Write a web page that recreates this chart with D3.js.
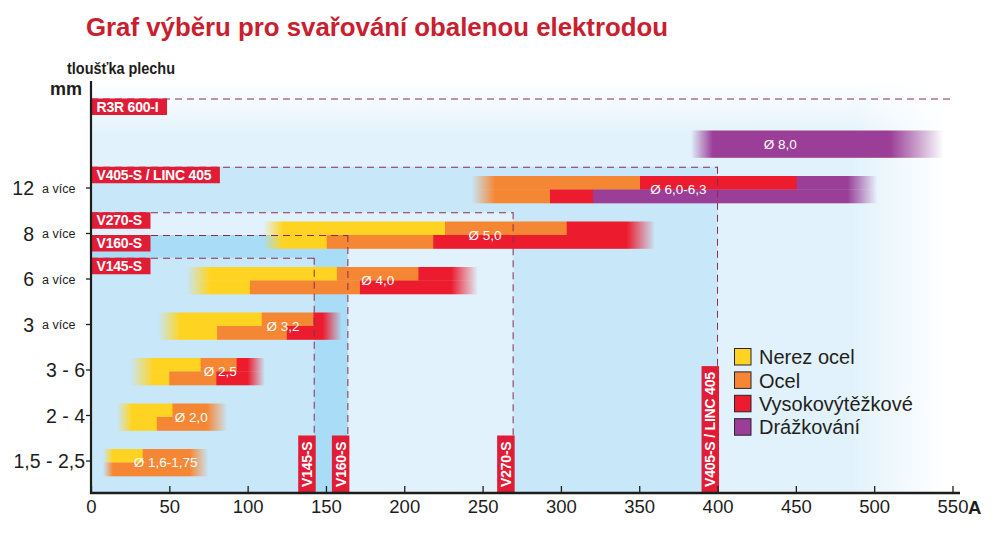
<!DOCTYPE html>
<html><head><meta charset="utf-8">
<script src="https://cdn.jsdelivr.net/npm/d3@7"></script>
<style>body{margin:0;background:#fff}svg{display:block;font-family:"Liberation Sans",Arial,Helvetica,sans-serif}</style>
</head><body><svg id="c" width="999" height="533"></svg>
<script>
// ---------- data ----------
const chartTitle = "Graf výběru pro svařování obalenou elektrodou";
const yAxisTitle = "tloušťka plechu";
const yUnit = "mm";
const xUnit = "A";
const thicknessLabels = ["", "12", "8", "6", "3", "3 - 6", "2 - 4", "1,5 - 2,5"];
const thicknessSuffix = ["", "a více", "a více", "a více", "a více", "", "", ""];
const xTickValues = [0, 50, 100, 150, 200, 250, 300, 350, 400, 450, 500, 550];
const materials = ["Nerez ocel", "Ocel", "Vysokovýtěžkové", "Drážkování"];
const electrodes = ["Ø 8,0", "Ø 6,0-6,3", "Ø 5,0", "Ø 4,0", "Ø 3,2", "Ø 2,5", "Ø 2,0", "Ø 1,6-1,75"];
const electrodeRow = [0, 1, 2, 3, 4, 5, 6, 7];
// [fade-in start, full from, full to, fade-out end] in A
const electrodeRange = [
  [383, 397, 510, 544],
  [243, 258, 483, 502],
  [110, 122.6, 342, 360],
  [61, 76, 230, 247],
  [43, 57, 148, 160],
  [25, 40, 100, 111],
  [16.6, 26, 74, 87],
  [7.7, 14, 63, 75]
];
// [material index, up to A] – upper half of each bar
const electrodeTop = [
  [[3, 544]],
  [[1, 350.5], [2, 450.5], [3, 502]],
  [[0, 226], [1, 303.7], [2, 360]],
  [[0, 157], [1, 209], [2, 247]],
  [[0, 109], [1, 142], [2, 160]],
  [[0, 70], [1, 93], [2, 111]],
  [[0, 52], [1, 87]],
  [[0, 33], [1, 75]]
];
// lower half of each bar
const electrodeBottom = [
  [[3, 544]],
  [[1, 293], [2, 320.5], [3, 502]],
  [[0, 150.5], [1, 218.5], [2, 360]],
  [[0, 101.5], [1, 171.7], [2, 247]],
  [[0, 80.5], [1, 125], [2, 160]],
  [[0, 50], [1, 80], [2, 111]],
  [[0, 42], [1, 87]],
  [[1, 75]]
];
const electrodeLabelAmp = [440, 375, 251.5, 183, 122.6, 82.5, 64, 47.6];
const machines = ["R3R 600-I", "V405-S / LINC 405", "V270-S", "V160-S", "V145-S"];
const machineAmp = [600, 400, 269.5, 164, 142.5];
const machineLevel = [-1, 0.5, 1.5, 2, 2.5];

// ---------- styles ----------
const materialColors = ["#ffd321", "#f58634", "#ec1b2e", "#9a3e97"];
const zoneFill = [null, "#c8e7f8", "#e1f2fc", "#a9dcf6", "#c8e7f8"];
const baseFill = "#e1f2fc";
const boxRed = "#e01c36";
const dashColor = "#8a2c52";

// ---------- scales ----------
const svg = d3.select("#c");
const x = d3.scaleLinear().domain([0, 550]).range([91, 952.5]);
const y = d3.scaleLinear().domain([0, 7]).range([144, 462.5]);
const axisY = 493, plotTop = 81, plotRight = 960;
const barH = 27;
const defs = svg.append("defs");

// ---------- background ----------
svg.append("rect").attr("x", x(0)).attr("y", plotTop).attr("width", plotRight - x(0)).attr("height", axisY - plotTop).attr("fill", baseFill);
machines.forEach((m, i) => {
  if (!zoneFill[i]) return;
  svg.append("rect").attr("x", x(0)).attr("y", y(machineLevel[i]))
    .attr("width", x(machineAmp[i]) - x(0)).attr("height", axisY - y(machineLevel[i]))
    .attr("fill", zoneFill[i]);
});
const gTop = defs.append("linearGradient").attr("id", "fadeTop").attr("x1", 0).attr("x2", 0).attr("y1", 0).attr("y2", 1);
gTop.append("stop").attr("offset", 0).attr("stop-color", "#fff").attr("stop-opacity", 1);
gTop.append("stop").attr("offset", 1).attr("stop-color", "#fff").attr("stop-opacity", 0);
svg.append("rect").attr("x", x(0)).attr("y", plotTop).attr("width", plotRight - x(0)).attr("height", 56).attr("fill", "url(#fadeTop)");
const gRight = defs.append("linearGradient").attr("id", "fadeRight");
gRight.append("stop").attr("offset", 0).attr("stop-color", "#fff").attr("stop-opacity", 0);
gRight.append("stop").attr("offset", 0.85).attr("stop-color", "#fff").attr("stop-opacity", 1);
gRight.append("stop").attr("offset", 1).attr("stop-color", "#fff").attr("stop-opacity", 1);
svg.append("rect").attr("x", 850).attr("y", plotTop).attr("width", plotRight - 850 + 1).attr("height", axisY - plotTop).attr("fill", "url(#fadeRight)");

// ---------- bars ----------
electrodes.forEach((e, i) => {
  const r = electrodeRange[i];
  const cy = y(electrodeRow[i]);
  const x0 = x(r[0]), x3 = x(r[3]);
  const grad = defs.append("linearGradient").attr("id", "bg" + i)
    .attr("gradientUnits", "userSpaceOnUse").attr("x1", x0).attr("x2", x3).attr("y1", 0).attr("y2", 0);
  const span = r[3] - r[0];
  [[0, "#000"], [(r[1] - r[0]) / span, "#fff"], [(r[2] - r[0]) / span, "#fff"], [1, "#000"]]
    .forEach(s => grad.append("stop").attr("offset", s[0]).attr("stop-color", s[1]));
  const mask = defs.append("mask").attr("id", "bm" + i).attr("maskUnits", "userSpaceOnUse")
    .attr("x", x0 - 2).attr("y", cy - barH).attr("width", x3 - x0 + 4).attr("height", barH * 2);
  mask.append("rect").attr("x", x0).attr("y", cy - barH).attr("width", x3 - x0).attr("height", barH * 2).attr("fill", "url(#bg" + i + ")");
  const g = svg.append("g").attr("mask", "url(#bm" + i + ")");
  [[electrodeTop[i], cy - barH / 2], [electrodeBottom[i], cy]].forEach(([segs, yy]) => {
    let prev = r[0];
    segs.forEach(s => {
      g.append("rect").attr("x", x(prev)).attr("y", yy).attr("width", Math.max(0, x(s[1]) - x(prev)) + 0.5)
        .attr("height", barH / 2 + 0.3).attr("fill", materialColors[s[0]]);
      prev = s[1];
    });
  });
  svg.append("text").attr("x", x(electrodeLabelAmp[i])).attr("y", cy).attr("dy", "0.36em")
    .attr("text-anchor", "middle").attr("fill", "#fff").attr("font-size", 13.5).text(e);
});

// ---------- machine dashed lines & labels ----------
machines.forEach((m, i) => {
  const ly = y(machineLevel[i]);
  const mx = Math.min(x(machineAmp[i]), x(551.5));
  svg.append("line").attr("x1", x(0)).attr("x2", mx).attr("y1", ly + 0.5).attr("y2", ly + 0.5)
    .attr("stroke", dashColor).attr("stroke-width", 1).attr("stroke-dasharray", "7,5");
});
machines.forEach((m, i) => {
  const ly = y(machineLevel[i]);
  const g = svg.append("g");
  const rect = g.append("rect").attr("x", x(0)).attr("y", ly).attr("height", 16.5).attr("fill", boxRed);
  const t = g.append("text").attr("x", x(0) + 5.5).attr("y", ly + 13.2).attr("fill", "#fff")
    .attr("font-weight", "bold").attr("font-size", 14).attr("letter-spacing", -0.2).text(m);
  rect.attr("width", t.node().getComputedTextLength() + 14);
  if (machineAmp[i] <= 550) {
    const mx = x(machineAmp[i]);
    const vg = svg.append("g");
    const tv = vg.append("text").attr("fill", "#fff").attr("font-weight", "bold").attr("font-size", 14)
      .attr("letter-spacing", -0.2).attr("text-anchor", "middle").text(m);
    const len = tv.node().getComputedTextLength() + 12;
    const top = axisY - len;
    svg.append("line").attr("x1", mx).attr("x2", mx).attr("y1", ly).attr("y2", top)
      .attr("stroke", dashColor).attr("stroke-width", 1).attr("stroke-dasharray", "7,5");
    vg.insert("rect", "text").attr("x", mx - 16).attr("y", top).attr("width", 17.5).attr("height", len).attr("fill", boxRed);
    tv.attr("transform", `translate(${mx - 7.2},${top + len / 2}) rotate(-90)`).attr("dy", "0.36em");
  }
});

// ---------- axes ----------
const xAxis = d3.axisBottom(x).tickValues(xTickValues).tickSizeInner(-7).tickSizeOuter(0).tickPadding(7);
const ax = svg.append("g").attr("transform", `translate(0,${axisY})`).call(xAxis);
ax.select(".domain").remove();
ax.selectAll(".tick line").attr("stroke", "#1d1d1b").attr("stroke-width", 1.3);
ax.selectAll(".tick text").attr("fill", "#1d1d1b").attr("font-size", 18.5).attr("font-family", null);
svg.append("line").attr("x1", x(0) - 1).attr("x2", plotRight).attr("y1", axisY).attr("y2", axisY)
  .attr("stroke", "#1d1d1b").attr("stroke-width", 2.6);
svg.append("text").attr("x", 968).attr("y", axisY + 21).attr("font-weight", "bold").attr("font-size", 18.5)
  .attr("fill", "#1d1d1b").text(xUnit);

svg.append("line").attr("x1", x(0)).attr("x2", x(0)).attr("y1", plotTop).attr("y2", axisY + 1)
  .attr("stroke", "#1d1d1b").attr("stroke-width", 2.2);
thicknessLabels.forEach((lab, i) => {
  if (!lab) return;
  const cy = y(i) - 1.5;
  svg.append("line").attr("x1", 86).attr("x2", x(0)).attr("y1", cy).attr("y2", cy).attr("stroke", "#1d1d1b").attr("stroke-width", 1.3);
  if (thicknessSuffix[i]) {
    svg.append("text").attr("x", 34).attr("y", cy).attr("dy", "0.36em").attr("text-anchor", "end")
      .attr("font-size", 19.5).attr("fill", "#1d1d1b").text(lab);
    svg.append("text").attr("x", 42).attr("y", cy).attr("dy", "0.36em")
      .attr("font-size", 12.5).attr("fill", "#1d1d1b").text(thicknessSuffix[i]);
  } else {
    svg.append("text").attr("x", 85).attr("y", cy).attr("dy", "0.36em").attr("text-anchor", "end")
      .attr("font-size", 19.5).attr("fill", "#1d1d1b").text(lab);
  }
});
svg.append("text").attr("x", 50).attr("y", 95).attr("font-weight", "bold").attr("font-size", 18).attr("fill", "#1d1d1b").text(yUnit);
svg.append("text").attr("x", 67).attr("y", 73.5).attr("font-weight", "bold").attr("font-size", 16)
  .attr("textLength", 108).attr("lengthAdjust", "spacingAndGlyphs")
  .attr("fill", "#1d1d1b").text(yAxisTitle);

// ---------- title ----------
svg.append("text").attr("x", 86).attr("y", 36).attr("font-weight", "bold").attr("font-size", 25.8)
  .attr("fill", "#c8202f").text(chartTitle);

// ---------- legend ----------
const lg = svg.append("g").attr("transform", "translate(734,348)");
materials.forEach((m, i) => {
  lg.append("rect").attr("x", 0.5).attr("y", i * 23.4 + 0.5).attr("width", 16.5).attr("height", 16.5)
    .attr("fill", materialColors[i]).attr("stroke", "#2b2233").attr("stroke-width", 1);
  lg.append("text").attr("x", 25).attr("y", i * 23.4 + 9).attr("dy", "0.36em")
    .attr("font-size", 20).attr("fill", "#231f20").text(m);
});
</script></body></html>
